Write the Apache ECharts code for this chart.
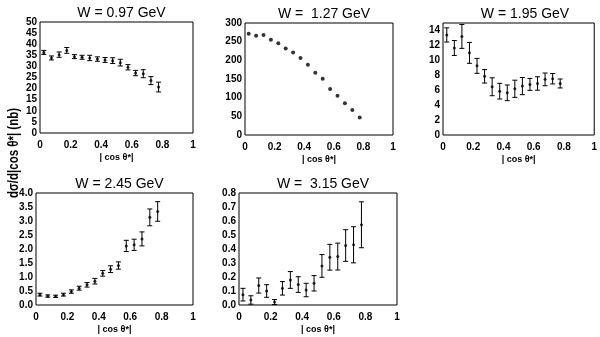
<!DOCTYPE html>
<html>
<head>
<meta charset="utf-8">
<script src="https://cdn.jsdelivr.net/npm/echarts@6/dist/echarts.min.js"></script>
<style>
  html, body { margin: 0; padding: 0; background: #fff; }
  #main { width: 600px; height: 337px; }
</style>
</head>
<body>
<div id="main"></div>
<script>
// bin centres of |cos θ*|
const cosBins = [0.025, 0.075, 0.125, 0.175, 0.225, 0.275, 0.325, 0.375,
  0.425, 0.475, 0.525, 0.575, 0.625, 0.675, 0.725, 0.775]
const xTicks = ['0', '0.2', '0.4', '0.6', '0.8', '1']

const titles = ['W = 0.97 GeV', 'W =  1.27 GeV', 'W = 1.95 GeV', 'W = 2.45 GeV', 'W =  3.15 GeV']

const w097 = [36.3, 33.8, 35.3, 37.2, 34.4, 34.1, 33.8, 33.3, 32.9, 32.6, 31.7, 29.6, 27.0, 26.7, 23.6, 20.7]
const w097err = [0.9, 0.9, 1.2, 1.3, 0.9, 0.9, 1.2, 1.0, 1.1, 1.3, 1.5, 1.2, 1.2, 1.8, 1.8, 2.2]

const w127 = [271, 266, 268, 255, 246, 232, 221, 206, 188, 167, 151, 123, 105, 85, 67, 47]

const w195 = [13.4, 11.65, 13.2, 11.0, 9.26, 7.86, 6.46, 5.87, 5.65, 6.19, 6.55, 6.78, 6.9, 7.45, 7.54, 6.9]
const w195err = [0.95, 1.0, 1.6, 1.4, 1.0, 0.9, 1.2, 1.05, 1.05, 1.15, 1.15, 0.8, 0.9, 0.85, 0.7, 0.6]

const w245 = [0.37, 0.32, 0.31, 0.37, 0.48, 0.6, 0.72, 0.85, 1.13, 1.28, 1.41, 2.11, 2.15, 2.36, 3.13, 3.34]
const w245err = [0.05, 0.04, 0.04, 0.05, 0.06, 0.07, 0.08, 0.1, 0.1, 0.12, 0.13, 0.2, 0.2, 0.25, 0.3, 0.35]

const w315 = [0.074, 0.036, 0.139, 0.1, 0.021, 0.119, 0.179, 0.146, 0.107, 0.155, 0.279, 0.341, 0.346, 0.425, 0.43, 0.573]
const w315err = [0.045, 0.03, 0.054, 0.045, 0.018, 0.048, 0.06, 0.056, 0.048, 0.055, 0.081, 0.092, 0.096, 0.113, 0.129, 0.164]

const panels = [
  { grid: { left: 40, top: 22, width: 153, height: 111 }, max: 50, interval: 5, digits: 0, y: w097, err: w097err },
  { grid: { left: 245, top: 23, width: 148, height: 112 }, max: 300, interval: 50, digits: 0, y: w127, err: null },
  { grid: { left: 443, top: 23, width: 154, height: 112 }, max: 15, interval: 2, digits: 0, y: w195, err: w195err },
  { grid: { left: 36, top: 193, width: 157, height: 112 }, max: 4, interval: 0.5, digits: 1, y: w245, err: w245err },
  { grid: { left: 239, top: 193, width: 158, height: 112 }, max: 0.8, interval: 0.1, digits: 1, y: w315, err: w315err }
]

const font = 'Liberation Sans, Arial, sans-serif'

function errorBars(values, errs) {
  return cosBins.map((x, i) => [x, values[i] - errs[i], values[i] + errs[i]])
}

function renderBar(params, api) {
  const lo = api.coord([api.value(0), api.value(1)])
  const hi = api.coord([api.value(0), api.value(2)])
  const cap = 2.5
  const style = { stroke: '#000', lineWidth: 1 }
  return {
    type: 'group',
    children: [
      { type: 'line', shape: { x1: lo[0], y1: lo[1], x2: hi[0], y2: hi[1] }, style: style },
      { type: 'line', shape: { x1: lo[0] - cap, y1: lo[1], x2: lo[0] + cap, y2: lo[1] }, style: style },
      { type: 'line', shape: { x1: hi[0] - cap, y1: hi[1], x2: hi[0] + cap, y2: hi[1] }, style: style }
    ]
  }
}

let grids = []
let xAxes = []
let yAxes = []
let series = []
let titleList = []

panels.forEach((p, i) => {
  grids.push(Object.assign({ show: true, borderColor: '#000', borderWidth: 1, backgroundColor: '#fff' }, p.grid))
  titleList.push({
    text: titles[i],
    left: p.grid.left + p.grid.width / 2,
    top: p.grid.top - 21,
    textAlign: 'center',
    textStyle: { fontFamily: font, fontSize: 14, fontWeight: 'normal', color: '#000' }
  })
  xAxes.push({
    gridIndex: i,
    type: 'value',
    min: 0,
    max: 1,
    interval: 0.2,
    name: '| cos θ*|',
    nameLocation: 'middle',
    nameGap: 20,
    nameTextStyle: { fontFamily: font, fontSize: 9, fontWeight: 'bold', color: '#000' },
    axisLine: { show: false },
    axisTick: { show: false },
    splitLine: { show: false },
    axisLabel: {
      margin: 7,
      fontFamily: font,
      fontSize: 10,
      fontWeight: 'bold',
      color: '#000',
      formatter: v => xTicks[Math.round(v / 0.2)]
    }
  })
  yAxes.push({
    gridIndex: i,
    type: 'value',
    min: 0,
    max: p.max,
    interval: p.interval,
    axisLine: { show: false },
    axisTick: { show: false },
    splitLine: { show: false },
    axisLabel: {
      margin: 3,
      fontFamily: font,
      fontSize: 10,
      fontWeight: 'bold',
      color: '#000',
      showMaxLabel: p.max % p.interval < 1e-9 || Math.abs(p.max % p.interval - p.interval) < 1e-9,
      formatter: v => v.toFixed(p.digits)
    }
  })
  if (p.err) {
    series.push({
      type: 'custom',
      xAxisIndex: i,
      yAxisIndex: i,
      renderItem: renderBar,
      data: errorBars(p.y, p.err),
      silent: true
    })
  }
  series.push({
    type: 'scatter',
    xAxisIndex: i,
    yAxisIndex: i,
    symbol: 'circle',
    symbolSize: i === 1 ? 4 : 3,
    itemStyle: { color: '#000' },
    data: cosBins.map((x, k) => [x, p.y[k]])
  })
})

const chart = echarts.init(document.getElementById('main'))
chart.setOption({
  animation: false,
  backgroundColor: '#fff',
  title: titleList,
  grid: grids,
  xAxis: xAxes,
  yAxis: yAxes,
  series: series,
  graphic: [{
    type: 'text',
    x: 14,
    y: 153,
    rotation: Math.PI / 2,
    scaleX: 0.82,
    style: {
      text: 'dσ/d|cos θ*| (nb)',
      fontFamily: font,
      fontSize: 14,
      fontWeight: 'bold',
      fill: '#000',
      align: 'center',
      verticalAlign: 'middle'
    }
  }]
})
</script>
</body>
</html>
